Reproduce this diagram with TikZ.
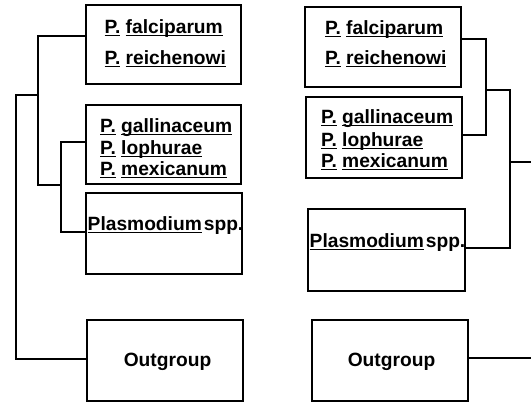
\documentclass[tikz,border=0pt]{standalone}
\usepackage{fontspec}
\setmainfont{Liberation Sans}
\newcommand\myul[1]{\setbox0=\hbox{#1}\rlap{\rule[-2.4pt]{\wd0}{1.3pt}}\box0\relax}
\begin{document}
\begin{tikzpicture}[x=1pt,y=-1pt,
  box/.style={draw, line width=1.7pt, minimum width=#1, minimum height=80pt, inner sep=0pt},
  box/.default=155pt,
  txt/.style={inner sep=0pt, anchor=base west, font=\fontsize{19.2}{21}\selectfont\bfseries},
  ctxt/.style={txt, anchor=base},
  conn/.style={line width=1.7pt}]
\useasboundingbox (0,0) rectangle (531,403);
% ---------- left tree ----------
\node[box, minimum height=79pt] (L1) at (163.5,44.5) {};
\node[box, minimum height=79pt] (L2) at (163.5,144.5) {};
\node[box=156pt, minimum height=81pt] (L3) at (164,233.5) {};
\node[box=156pt, minimum height=81pt] (L4) at (165,360.5) {};
\node[txt] (l1a) at (104.5,34) {\myul{P.} \myul{falciparum}};
\node[txt] (l1b) at (104.5,65) {\myul{P.} \myul{reichenowi}};
\node[txt] (l2a) at (100,132.5) {\myul{P.} \myul{gallinaceum}};
\node[txt] (l2b) at (100,154.5) {\myul{P.} \myul{lophurae}};
\node[txt] (l2c) at (100,176) {\myul{P.} \myul{mexicanum}};
\node[txt] (l3) at (87.5,231) {\myul{Plasmodium}\hspace{2pt}spp.};
\node[ctxt] (l4) at (167.5,367) {Outgroup};
\coordinate (la1) at (38,36);
\coordinate (la2) at (38,185);
\coordinate (lb1) at (61,142);
\coordinate (lb2) at (61,232);
\coordinate (lc1) at (16,95);
\coordinate (lc2) at (16,359);
\draw[conn] (L1.west |- la1) -- (la1) -- (la2) -- (la2 -| lb1);
\draw[conn] (L2.west |- lb1) -- (lb1) -- (lb2) -- (L3.west |- lb2);
\draw[conn] (la1 |- lc1) -- (lc1) -- (lc2) -- (L4.west |- lc2);
% ---------- right tree ----------
\node[box=156pt] (R1) at (383,47) {};
\node[box=156pt, minimum height=81pt] (R2) at (384,137.5) {};
\node[box=157pt, minimum height=82pt] (R3) at (386.5,250) {};
\node[box=156pt, minimum height=81pt] (R4) at (390,360.5) {};
\node[txt] (r1a) at (325,35) {\myul{P.} \myul{falciparum}};
\node[txt] (r1b) at (325,65) {\myul{P.} \myul{reichenowi}};
\node[txt] (r2a) at (321,124) {\myul{P.} \myul{gallinaceum}};
\node[txt] (r2b) at (321,146.5) {\myul{P.} \myul{lophurae}};
\node[txt] (r2c) at (321,168) {\myul{P.} \myul{mexicanum}};
\node[txt] (r3) at (309.5,248) {\myul{Plasmodium}\hspace{2pt}spp.};
\node[ctxt] (r4) at (391.5,367) {Outgroup};
\coordinate (ra1) at (486,39);
\coordinate (ra2) at (486,135);
\coordinate (rb1) at (510,90);
\coordinate (rb2) at (510,248);
\coordinate (rout) at (531,162);
\coordinate (rog) at (531,358);
\draw[conn] (R1.east |- ra1) -- (ra1) -- (ra2) -- (R2.east |- ra2);
\draw[conn] (ra1 |- rb1) -- (rb1) -- (rb2) -- (R3.east |- rb2);
\draw[conn] (rb1 |- rout) -- (rout);
\draw[conn] (R4.east |- rog) -- (rog);
\end{tikzpicture}
\end{document}
